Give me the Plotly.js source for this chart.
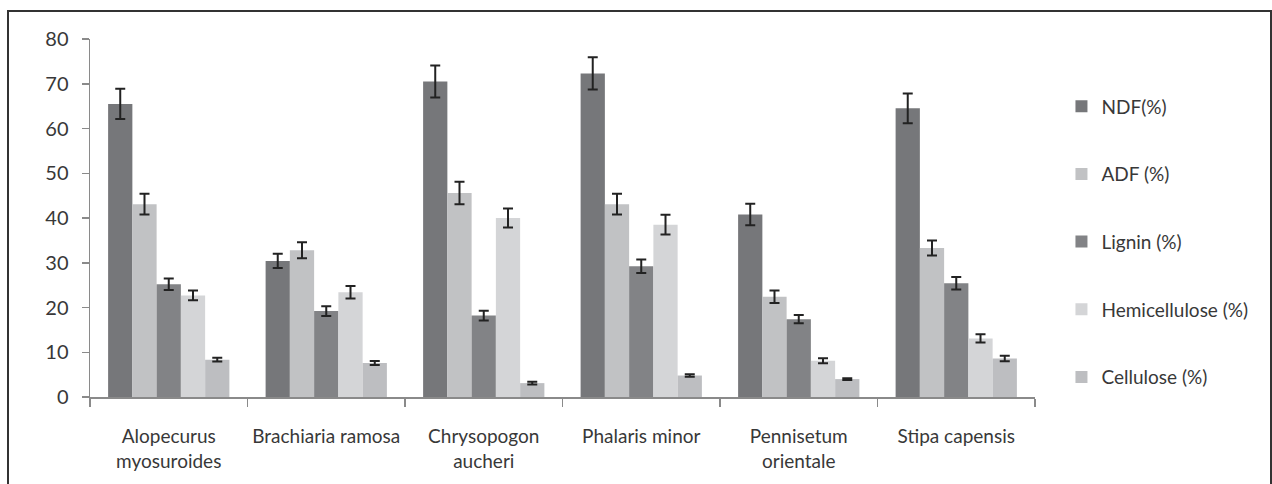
<!DOCTYPE html>
<html>
<head>
<meta charset="utf-8">
<script src="https://cdn.plot.ly/plotly-3.0.1.min.js"></script>
<style>
  html, body { margin: 0; padding: 0; background: #fff; }
  #wrap { position: relative; width: 1272px; height: 484px; overflow: hidden; }
  #chart { position: absolute; left: 0; top: 0; width: 1272px; height: 484px; }
  #frame { position: absolute; left: 7px; top: 10px; width: 1261px; height: 520px; border: 2px solid #333; pointer-events: none; }
</style>
</head>
<body>
<div id="wrap"><div id="chart"></div><div id="frame"></div></div>
<script>
const categories = ["Alopecurus<br>myosuroides", "Brachiaria ramosa", "Chrysopogon<br>aucheri", "Phalaris minor", "Pennisetum<br>orientale", "Stipa capensis"];
const seriesNames = ["NDF(%)", "ADF (%)", "Lignin (%)", "Hemicellulose (%)", "Cellulose (%)"];
const ndf = [65.5, 30.4, 70.5, 72.3, 40.8, 64.5];
const ndfErr = [3.4, 1.6, 3.6, 3.6, 2.4, 3.3];
const adf = [43.1, 32.8, 45.6, 43.1, 22.4, 33.3];
const adfErr = [2.3, 1.8, 2.5, 2.3, 1.4, 1.7];
const lignin = [25.2, 19.2, 18.2, 29.2, 17.4, 25.4];
const ligninErr = [1.3, 1.1, 1.1, 1.5, 0.9, 1.4];
const hemi = [22.7, 23.4, 40.0, 38.5, 8.1, 13.1];
const hemiErr = [1.1, 1.4, 2.1, 2.2, 0.55, 0.9];
const cellulose = [8.35, 7.6, 3.1, 4.8, 4.0, 8.6];
const celluloseErr = [0.4, 0.45, 0.3, 0.3, 0.2, 0.6];
const colors = ["#76777a", "#c1c2c4", "#828386", "#d4d5d7", "#bdbec1"];

const values = [ndf, adf, lignin, hemi, cellulose];
const errs = [ndfErr, adfErr, ligninErr, hemiErr, celluloseErr];

const traces = seriesNames.map((name, i) => ({
  type: "bar",
  name: name,
  x: categories,
  y: values[i],
  legendgroup: "g" + i,
  marker: { color: colors[i], line: { width: 0 } },
  error_y: { type: "data", array: errs[i], visible: true, color: "#222", thickness: 2, width: 5 }
}));

const fontFam = "Lato, 'Open Sans', sans-serif";
const layout = {
  width: 1272, height: 484,
  margin: { l: 90, r: 237, t: 39, b: 87 },
  paper_bgcolor: "#fff", plot_bgcolor: "#fff",
  barmode: "group",
  bargap: 0.23, bargroupgap: 0,
  showlegend: true,
  font: { family: fontFam, size: 19, color: "#383838" },
  xaxis: {
    showgrid: false, zeroline: false,
    showline: true, linecolor: "#8a8a8a", linewidth: 1.5,
    ticks: "outside", tickson: "boundaries", ticklen: 8, tickcolor: "#8a8a8a", tickwidth: 1.5,
    tickangle: 0, automargin: false,
    ticklabelstandoff: 22,
    tickfont: { family: fontFam, size: 19, color: "#383838" }
  },
  yaxis: {
    range: [0, 80], dtick: 10, tick0: 0,
    showgrid: false, zeroline: false,
    showline: true, linecolor: "#8a8a8a", linewidth: 1.5,
    ticks: "outside", ticklen: 7, tickcolor: "#8a8a8a", tickwidth: 1.5,
    ticklabelstandoff: 9,
    tickfont: { family: fontFam, size: 20, color: "#383838" }
  },
  legend: {
    x: 1.028, xanchor: "left", y: 0.865, yanchor: "top",
    tracegroupgap: 40,
    font: { family: fontFam, size: 19, color: "#383838" },
    itemwidth: 30, bgcolor: "rgba(0,0,0,0)"
  }
};

Plotly.newPlot("chart", traces, layout, { displayModeBar: false, staticPlot: true });
</script>
</body>
</html>
